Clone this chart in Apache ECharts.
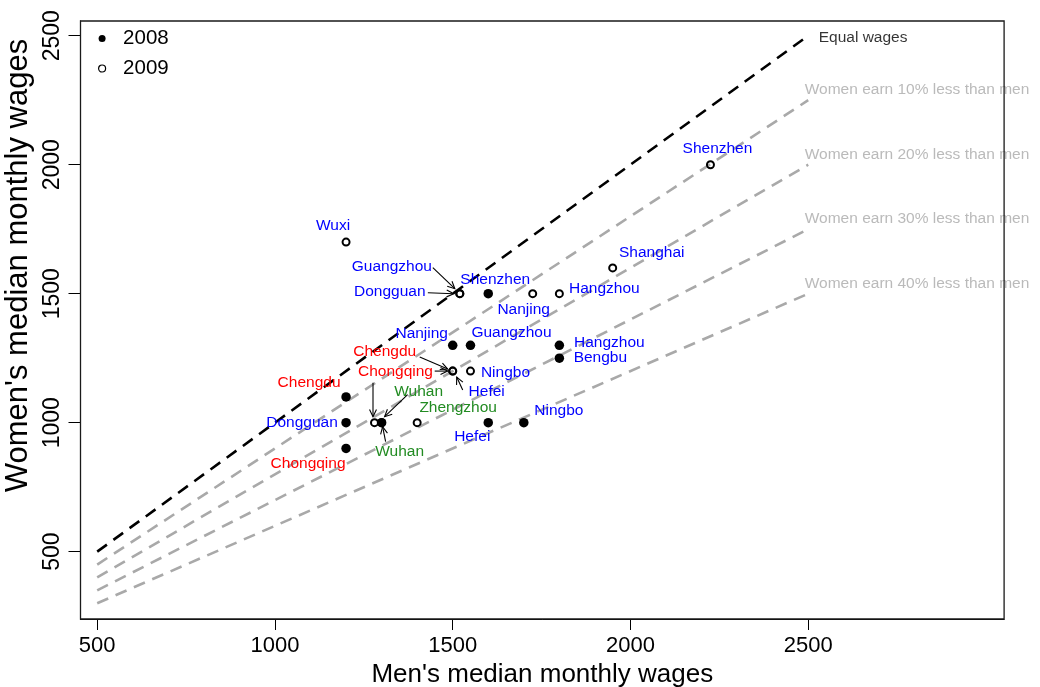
<!DOCTYPE html>
<html>
<head>
<meta charset="utf-8">
<script src="https://cdn.jsdelivr.net/npm/echarts@6/dist/echarts.min.js"></script>
<style>
  html, body { margin: 0; padding: 0; background: #fff; }
  #chart { width: 1040px; height: 687px; }
</style>
</head>
<body>
<div id="chart"></div>
<script>
// ---------------- Data ----------------
const cities2008 = ['Chengdu','Chongqing','Dongguan','Wuhan','Nanjing','Guangzhou','Shenzhen','Hangzhou','Bengbu','Hefei','Ningbo'];
const men2008    = [1200, 1200, 1200, 1300, 1500, 1550, 1600, 1800, 1800, 1600, 1700];
const women2008  = [1100,  900, 1000, 1000, 1300, 1300, 1500, 1300, 1250, 1000, 1000];
const region2008 = ['West','West','East','Central','East','East','East','East','East','East','East'];

const cities2009 = ['Wuxi','Guangzhou','Dongguan','Shenzhen','Shanghai','Nanjing','Hangzhou','Chengdu','Chongqing','Hefei','Ningbo','Wuhan','Zhengzhou'];
const men2009    = [1200, 1520, 1520, 2225, 1950, 1725, 1800, 1500, 1280, 1500, 1550, 1300, 1400];
const women2009  = [1700, 1500, 1500, 2000, 1600, 1500, 1500, 1200, 1000, 1200, 1200, 1000, 1000];
const region2009 = ['East','East','East','East','East','East','East','West','West','East','East','Central','Central'];

const refLabels      = ['Equal wages','Women earn 10% less than men','Women earn 20% less than men','Women earn 30% less than men','Women earn 40% less than men'];
const refMen         = [500, 2500];
const refWomenStart  = [500, 450, 400, 350, 300];
const refWomenEnd    = [2500, 2250, 2000, 1750, 1500];

const tickValues = [500, 1000, 1500, 2000, 2500];

// ---------------- Styles / layout ----------------
const FONT = 'Liberation Sans, Arial, Helvetica, sans-serif';
const regionColors = { East: '#0000FF', West: '#FF0000', Central: '#228B22' };
const GREY = '#A9A9A9';
const GRID = { left: 80.5, top: 21, width: 923.6, height: 598 };

// label centre offsets (px) relative to each point
const labelOffset2008 = {
  Chengdu: [-37, -14], Chongqing: [-38, 15], Dongguan: [-44, 0], Wuhan: [18, 29],
  Nanjing: [-31, -12], Guangzhou: [41, -13], Shenzhen: [7, -14], Hangzhou: [50, -3],
  Bengbu: [41, 0], Hefei: [-16, 14], Ningbo: [35, -12]
};
const labelOffset2009 = {
  Wuxi: [-13, -16], Guangzhou: [-68, -27], Dongguan: [-70, -2], Shenzhen: [7, -16],
  Shanghai: [39, -15], Nanjing: [-9, 16], Hangzhou: [45, -5], Chengdu: [-68, -19],
  Chongqing: [21, -51], Hefei: [34, 21], Ningbo: [35, 2], Wuhan: [37, -31], Zhengzhou: [41, -15]
};
// arrows: start/end offsets (px) relative to the target point
const arrowLayout = [
  { year: 2009, city: 'Guangzhou', from: [-27, -26], to: [-5, -5] },
  { year: 2009, city: 'Dongguan',  from: [-32, -1],  to: [-6, 0] },
  { year: 2009, city: 'Chengdu',   from: [-33, -14], to: [-5, -2] },
  { year: 2009, city: 'Chengdu',   from: [-18, 0],   to: [-5, 0] },
  { year: 2009, city: 'Chongqing', from: [-1.5, -40], to: [-1.5, -6] },
  { year: 2009, city: 'Hefei',     from: [10, 19],   to: [4, 6] },
  { year: 2009, city: 'Wuhan',     from: [26, -28],  to: [3, -6] },
  { year: 2008, city: 'Wuhan',     from: [4, 19],    to: [1, 4] }
];
const refLabelOffset = [[10, 2], [-4, -10], [-4, -10], [-4, -10], [-4, -10]];

// ---------------- Build ----------------
function buildPoints(cities, men, women, region, offsets) {
  return cities.map((c, i) => ({
    name: c,
    value: [men[i], women[i]],
    label: {
      show: true, position: 'inside', formatter: c,
      offset: offsets[c], color: regionColors[region[i]],
      fontSize: 15.5, fontFamily: FONT, textBorderWidth: 0,
      align: 'center', verticalAlign: 'middle'
    }
  }));
}
function lookup(year, city) {
  if (year === 2008) { const i = cities2008.indexOf(city); return [men2008[i], women2008[i]]; }
  const i = cities2009.indexOf(city); return [men2009[i], women2009[i]];
}

const series = [];
refLabels.forEach((name, i) => {
  series.push({
    type: 'line', name: name, silent: true, animation: false,
    symbol: 'none', showSymbol: false, z: 2,
    data: [[refMen[0], refWomenStart[i]], [refMen[1], refWomenEnd[i]]],
    lineStyle: { color: i === 0 ? '#000' : GREY, width: 2.6, type: [12, 8], cap: 'butt', opacity: 1 }
  });
});
series.push({
  type: 'scatter', name: 'refText', silent: true, z: 3,
  symbolSize: 1, itemStyle: { color: 'transparent' },
  data: refLabels.map((name, i) => ({
    value: [refMen[1], refWomenEnd[i]],
    label: {
      show: true, position: 'right', distance: 0, formatter: name,
      offset: refLabelOffset[i], color: i === 0 ? '#000' : GREY,
      fontSize: 15.5, fontFamily: FONT
    }
  }))
});
series.push({
  type: 'scatter', name: '2008', silent: true, z: 4,
  symbol: 'circle', symbolSize: 9.5,
  itemStyle: { color: '#000', opacity: 1 },
  data: buildPoints(cities2008, men2008, women2008, region2008, labelOffset2008)
});
series.push({
  type: 'scatter', name: '2009', silent: true, z: 5,
  symbol: 'circle', symbolSize: 7,
  itemStyle: { color: 'transparent', borderColor: '#000', borderWidth: 2, opacity: 1 },
  data: buildPoints(cities2009, men2009, women2009, region2009, labelOffset2009)
});
series.push({
  type: 'custom', name: 'arrows', silent: true, z: 6, clip: false,
  coordinateSystem: 'cartesian2d',
  data: arrowLayout.map(a => lookup(a.year, a.city)),
  renderItem: function (params, api) {
    const a = arrowLayout[params.dataIndex];
    const c = api.coord([api.value(0), api.value(1)]);
    const x1 = c[0] + a.from[0], y1 = c[1] + a.from[1];
    const x2 = c[0] + a.to[0],   y2 = c[1] + a.to[1];
    const ang = Math.atan2(y2 - y1, x2 - x1), L = 8, phi = Math.PI / 7;
    const h1 = [x2 - L * Math.cos(ang - phi), y2 - L * Math.sin(ang - phi)];
    const h2 = [x2 - L * Math.cos(ang + phi), y2 - L * Math.sin(ang + phi)];
    return {
      type: 'group', children: [
        { type: 'line', shape: { x1: x1, y1: y1, x2: x2, y2: y2 }, style: { stroke: '#000', lineWidth: 1.1 } },
        { type: 'polyline', shape: { points: [h1, [x2, y2], h2] }, style: { stroke: '#000', fill: null, lineWidth: 1.1 } }
      ]
    };
  }
});

const plain = v => String(v);

const option = {
  animation: false,
  backgroundColor: '#fff',
  textStyle: { fontFamily: FONT },
  grid: {
    left: GRID.left, top: GRID.top, width: GRID.width, height: GRID.height,
    show: false, containLabel: false, outerBoundsMode: 'none'
  },
  legend: {
    orient: 'vertical', left: 98, top: 28, padding: 0,
    itemWidth: 8, itemHeight: 7, itemGap: 9,
    textStyle: { fontSize: 20.5, color: '#000', fontFamily: FONT, padding: [0, 0, 0, 12] },
    data: [
      { name: '2008', icon: 'circle', itemStyle: { color: '#000', opacity: 1 } },
      { name: '2009', icon: 'circle', itemStyle: { color: 'transparent', borderColor: '#000', borderWidth: 1.2, opacity: 1 } }
    ],
    selectedMode: false
  },
  xAxis: {
    type: 'value', min: 453, max: 3051,
    name: "Men's median monthly wages", nameLocation: 'middle', nameGap: 27,
    nameTextStyle: { fontSize: 26, color: '#000', fontFamily: FONT },
    axisLine: { show: true, onZero: false, lineStyle: { color: '#000', width: 1 } },
    axisTick: { show: true, length: 11, customValues: tickValues, lineStyle: { color: '#000', width: 1 } },
    axisLabel: { customValues: tickValues, formatter: plain, fontSize: 22, color: '#000', margin: 16, fontFamily: FONT },
    splitLine: { show: false }
  },
  yAxis: {
    type: 'value', min: 239, max: 2557,
    name: "Women's median monthly wages", nameLocation: 'middle', nameRotate: 90, nameGap: 40,
    nameTextStyle: { fontSize: 31, color: '#000', fontFamily: FONT, padding: [0, 0, 0, 109] },
    axisLine: { show: true, onZero: false, lineStyle: { color: '#000', width: 1 } },
    axisTick: { show: true, length: 12, customValues: tickValues, lineStyle: { color: '#000', width: 1 } },
    axisLabel: { customValues: tickValues, formatter: plain, rotate: 90, fontSize: 23, color: '#000', margin: 16, fontFamily: FONT },
    splitLine: { show: false }
  },
  graphic: [{
    type: 'rect', z: 100, silent: true,
    shape: { x: GRID.left, y: GRID.top, width: GRID.width, height: GRID.height },
    style: { fill: null, stroke: '#1a1a1a', lineWidth: 1.3 }
  }],
  series: series
};

const chart = echarts.init(document.getElementById('chart'), null, { renderer: 'canvas' });
chart.setOption(option);
</script>
</body>
</html>
